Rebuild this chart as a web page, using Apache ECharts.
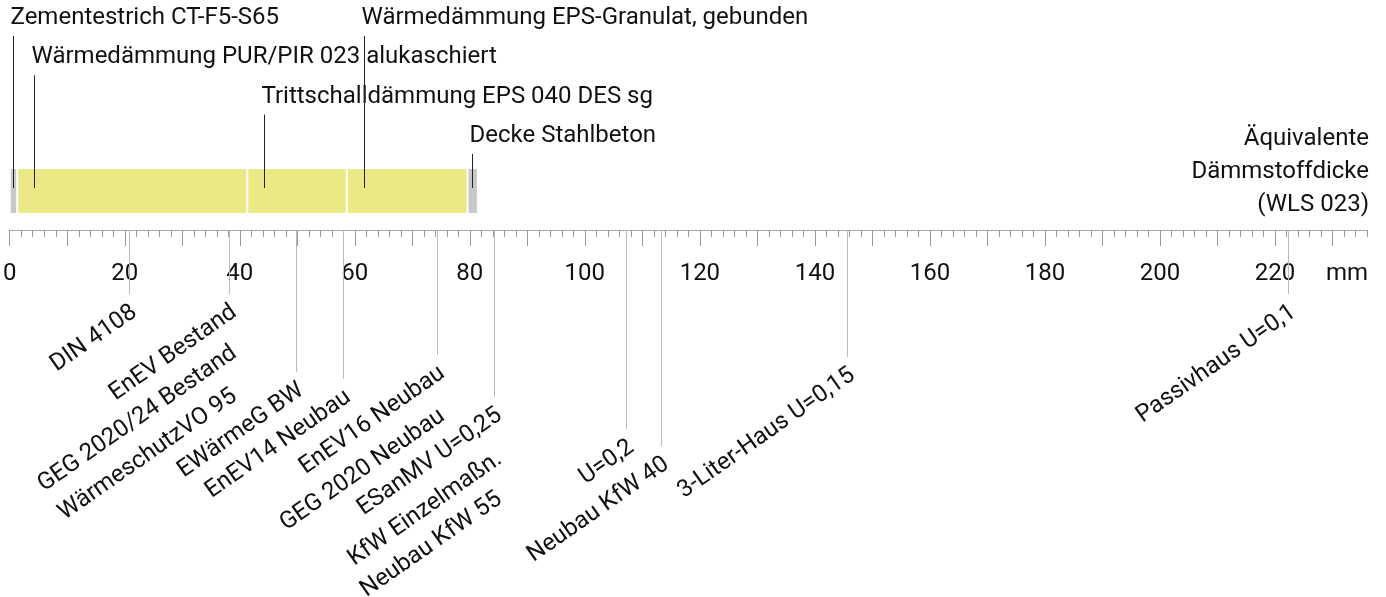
<!DOCTYPE html>
<html>
<head>
<meta charset="utf-8">
<script src="https://cdn.jsdelivr.net/npm/echarts@6/dist/echarts.min.js"></script>
<style>
html,body{margin:0;padding:0;background:#fff;}
#chart{width:1386px;height:597px;}
</style>
</head>
<body>
<div id="chart"></div>
<script>
// ---------- data ----------
const layerNames = [
  'Zementestrich CT-F5-S65',
  'Wärmedämmung PUR/PIR 023 alukaschiert',
  'Trittschalldämmung EPS 040 DES sg',
  'Wärmedämmung EPS-Granulat, gebunden',
  'Decke Stahlbeton'
];
const layerEquivMm = [1.3, 40, 17.3, 21.0, 1.8];   // äquivalente Dämmstoffdicke in mm
const layerIsInsulation = [false, true, true, true, false];

const refNames = [
  'DIN 4108',
  'EnEV Bestand',
  'GEG 2020/24 Bestand',
  'WärmeschutzVO 95',
  'EWärmeG BW',
  'EnEV14 Neubau',
  'EnEV16 Neubau',
  'GEG 2020 Neubau',
  'ESanMV U=0,25',
  'KfW Einzelmaßn.',
  'Neubau KfW 55',
  'U=0,2',
  'Neubau KfW 40',
  '3-Liter-Haus U=0,15',
  'Passivhaus U=0,1'
];
const refMm = [20.7, 38.2, 38.2, 38.2, 49.7, 57.9, 74.3, 74.3, 84.2, 84.2, 84.2, 107.2, 113.2, 145.5, 222.2];

const tickLabels = ['0', '20', '40', '60', '80', '100', '120', '140', '160', '180', '200', '220'];
const majorTickMm = [0, 10, 20, 30, 40, 50, 60, 70, 80, 90, 100, 110, 120, 130, 140, 150, 160, 170, 180, 190, 200, 210, 220, 230];
const axisMaxMm = 236;
const axisUnit = 'mm';
const axisTitleLines = ['Äquivalente', 'Dämmstoffdicke', '(WLS 023)'];

// ---------- layout (not data) ----------
const layerLabelRow = [0, 1, 2, 0, 3];
const refLabelDrop = [64, 64, 105, 148, 142, 149, 125, 168, 167, 211, 251, 199, 216, 127, 64];

const FONT = 'Roboto';
const TXT = '#111';
const COL_INS = '#ebe985';
const COL_MASS = '#c8c8c8';
const W = 1386;

// stacked extents for the label series
const layerStart = [];
let acc = 0;
layerEquivMm.forEach(v => { layerStart.push(acc); acc += v; });

const refFirstOfValue = refMm.map((v, i) => refMm.indexOf(v) === i);

const barSeries = layerNames.map((n, i) => ({
  name: n,
  type: 'bar',
  stack: 'aufbau',
  xAxisIndex: 0,
  yAxisIndex: 0,
  barWidth: 46,
  silent: true,
  itemStyle: {
    color: layerIsInsulation[i] ? COL_INS : COL_MASS,
    borderColor: '#fff',
    borderWidth: 1
  },
  data: [layerEquivMm[i]]
}));

const layerLabelSeries = {
  type: 'custom',
  xAxisIndex: 0,
  yAxisIndex: 0,
  silent: true,
  clip: false,
  z: 5,
  encode: { x: [0, 1] },
  data: layerNames.map((n, i) => ({ name: n, value: [layerStart[i], layerStart[i] + layerEquivMm[i], layerLabelRow[i]] })),
  renderItem: function (params, api) {
    const idx = params.dataIndex;
    const x0 = api.coord([api.value(0), 0])[0];
    const x1 = api.coord([api.value(1), 0])[0];
    const cy = api.coord([0, 0])[1];
    const row = api.value(2);
    const lx = Math.floor(Math.min((x0 + x1) / 2, x0 + 17.5)) + 0.5;
    const rowY = cy - 173 + row * 39.3;
    return {
      type: 'group',
      children: [
        { type: 'line', shape: { x1: lx, y1: rowY + 18, x2: lx, y2: cy - 3 }, style: { stroke: '#222', lineWidth: 1 } },
        { type: 'text', x: lx - 3, y: rowY, style: { text: layerNames[idx], fill: TXT, fontSize: 24, fontFamily: FONT, align: 'left', verticalAlign: 'middle' } }
      ]
    };
  }
};

const refSeries = {
  type: 'custom',
  xAxisIndex: 0,
  yAxisIndex: 0,
  silent: true,
  clip: false,
  z: 4,
  encode: { x: 0 },
  data: refNames.map((n, i) => ({ name: n, value: [refMm[i], refLabelDrop[i]] })),
  renderItem: function (params, api) {
    const idx = params.dataIndex;
    const x = Math.round(api.coord([api.value(0), 0])[0]) + 0.5;
    const axisY = params.coordSys.y + params.coordSys.height;
    const drop = api.value(1);
    const children = [];
    if (refFirstOfValue[idx]) {
      children.push({ type: 'line', shape: { x1: x, y1: axisY, x2: x, y2: axisY + drop }, style: { stroke: '#bbb', lineWidth: 1 } });
    }
    children.push({
      type: 'text', x: x + 5, y: axisY + drop + 16, rotation: 35 * Math.PI / 180,
      style: { text: refNames[idx], fill: TXT, fontSize: 24, fontFamily: FONT, align: 'right', verticalAlign: 'middle' }
    });
    return { type: 'group', children: children };
  }
};

const chart = echarts.init(document.getElementById('chart'), null, { renderer: 'canvas' });
chart.setOption({
  animation: false,
  backgroundColor: '#fff',
  textStyle: { fontFamily: FONT },
  grid: { left: 7, right: 19, top: 152, bottom: 367 },
  xAxis: [
    {
      type: 'value', min: 0, max: axisMaxMm, interval: 2, position: 'bottom',
      axisLine: { show: true, lineStyle: { color: '#aaa', width: 1 } },
      axisTick: { show: true, length: 7, lineStyle: { color: '#999', width: 1 } },
      axisLabel: { show: false },
      splitLine: { show: false }
    },
    {
      type: 'value', min: 0, max: axisMaxMm, position: 'bottom',
      axisLine: { show: false },
      axisTick: { show: true, length: 16, customValues: majorTickMm, lineStyle: { color: '#999', width: 1 } },
      axisLabel: {
        customValues: tickLabels.map(Number),
        formatter: v => tickLabels[tickLabels.map(Number).indexOf(v)] || '',
        margin: 32, fontSize: 24, fontFamily: FONT, color: TXT
      },
      splitLine: { show: false }
    }
  ],
  yAxis: { type: 'category', data: ['Aufbau'], show: false },
  graphic: [
    {
      type: 'text', x: W - 17, y: 122,
      style: { text: axisTitleLines.join('\n'), fill: TXT, fontSize: 24, fontFamily: FONT, lineHeight: 33, align: 'right', verticalAlign: 'top' }
    },
    {
      type: 'text', x: W - 18, y: 274,
      style: { text: axisUnit, fill: TXT, fontSize: 24, fontFamily: FONT, align: 'right', verticalAlign: 'middle' }
    }
  ],
  series: barSeries.concat([layerLabelSeries, refSeries])
});
</script>
</body>
</html>
